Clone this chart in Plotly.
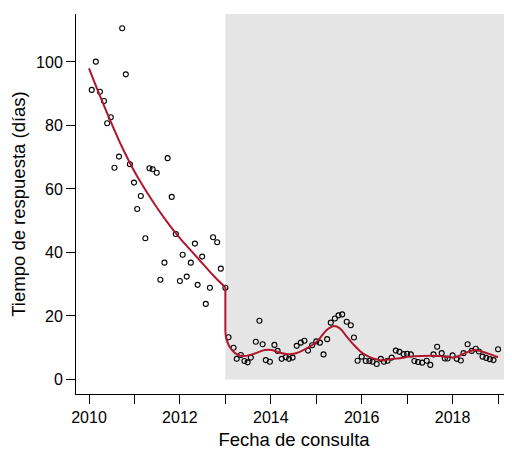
import plotly.graph_objects as go

# Observed points (decimal year, days)
pts_x = [2010.06, 2010.15, 2010.24, 2010.33, 2010.40, 2010.48, 2010.56, 2010.66, 2010.73, 2010.81,
         2010.90, 2010.99, 2011.06, 2011.14, 2011.24, 2011.33, 2011.40, 2011.49, 2011.57, 2011.66,
         2011.73, 2011.82, 2011.91, 2012.00, 2012.06, 2012.15, 2012.24, 2012.33, 2012.39, 2012.49,
         2012.57, 2012.66, 2012.73, 2012.82, 2012.90, 2013.00,
         2013.07, 2013.18, 2013.25, 2013.34, 2013.42, 2013.49, 2013.56, 2013.67, 2013.75, 2013.82,
         2013.89, 2013.98, 2014.08, 2014.15, 2014.24, 2014.33, 2014.40, 2014.48, 2014.57, 2014.66,
         2014.74, 2014.82, 2014.91, 2015.00, 2015.08, 2015.16, 2015.24, 2015.32, 2015.41, 2015.49,
         2015.57, 2015.67, 2015.76, 2015.83, 2015.91, 2016.00, 2016.09, 2016.17, 2016.24, 2016.33,
         2016.42, 2016.49, 2016.57, 2016.66, 2016.75, 2016.83, 2016.92, 2017.00, 2017.08, 2017.16,
         2017.24, 2017.33, 2017.43, 2017.51, 2017.58, 2017.66, 2017.76, 2017.83, 2017.89, 2018.00,
         2018.09, 2018.18, 2018.24, 2018.33, 2018.42, 2018.51, 2018.58, 2018.66, 2018.74, 2018.82,
         2018.90, 2019.00]
pts_y = [91.2, 100.1, 90.6, 87.7, 80.7, 82.6, 66.7, 70.2, 110.6, 96.1,
         67.8, 62.0, 53.7, 57.8, 44.5, 66.5, 66.2, 65.1, 31.4, 36.8,
         69.7, 57.5, 45.8, 31.0, 39.3, 32.4, 36.8, 42.8, 29.8, 38.7,
         23.8, 28.9, 44.8, 43.2, 34.9, 28.9,
         13.3, 10.0, 6.5, 7.7, 5.8, 5.4, 6.9, 11.9, 18.5, 11.1,
         6.1, 5.6, 10.9, 9.0, 6.5, 7.0, 6.5, 6.9, 10.6, 11.6,
         12.2, 9.1, 10.8, 12.0, 11.6, 7.9, 12.7, 17.9, 19.2, 20.2,
         20.5, 18.2, 17.1, 13.2, 5.9, 7.2, 5.8, 5.8, 5.6, 4.9,
         6.5, 5.6, 5.9, 6.9, 9.1, 8.7, 8.0, 8.1, 7.9, 5.8,
         5.5, 5.3, 5.9, 4.6, 7.9, 10.3, 8.3, 6.6, 6.6, 7.6,
         6.5, 6.0, 8.3, 11.1, 9.0, 9.7, 8.8, 7.2, 6.8, 6.4,
         6.1, 9.5]

# Fitted curve before the change
fit_pre_x = [2010.0, 2010.25, 2010.5, 2010.75, 2011.0, 2011.25, 2011.5, 2011.75, 2012.0,
             2012.25, 2012.5, 2012.75, 2013.0]
fit_pre_y = [98, 89, 80.5, 72.5, 65.5, 59.5, 54, 49, 44.5, 40.5, 36.5, 32.5, 29]

# Fitted curve after the change
fit_post_x = [2013.0, 2013.03, 2013.14, 2013.28, 2013.43, 2013.65, 2013.87, 2014.02, 2014.20,
              2014.35, 2014.53, 2014.75, 2014.97, 2015.08, 2015.23, 2015.38, 2015.52, 2015.67,
              2015.82, 2015.96, 2016.11, 2016.40, 2016.62, 2016.84, 2017.06, 2017.32, 2017.69,
              2018.05, 2018.27, 2018.49, 2018.64, 2018.82, 2019.0]
fit_post_y = [15, 12.4, 9.3, 7.7, 7.4, 8.2, 9.3, 9.3, 8.4,
              8.0, 8.2, 9.5, 11.4, 13.0, 15.6, 16.8, 16.1, 13.5,
              11.0, 9.0, 7.5, 6.1, 6.4, 6.7, 7.2, 7.4, 7.4,
              7.0, 8.3, 9.3, 8.8, 8.0, 7.0]

change_x = 2013.0
x_tickvals = [2010, 2011, 2012, 2013, 2014, 2015, 2016, 2017, 2018, 2019]
x_ticktext = ["2010", "", "2012", "", "2014", "", "2016", "", "2018", ""]
y_tickvals = [0, 20, 40, 60, 80, 100]

X_RANGE = [2009.714, 2019.307]
Y_RANGE = [-4.57, 115.1]
RED = "#B0162D"
FONT = "Liberation Sans, Arial, sans-serif"

fig = go.Figure()

fig.add_shape(type="rect", xref="x", yref="y", x0=change_x, x1=X_RANGE[1], y0=0, y1=Y_RANGE[1],
              fillcolor="#E5E5E5", line=dict(width=0), layer="below")

fig.add_trace(go.Scatter(x=pts_x, y=pts_y, mode="markers",
                         marker=dict(symbol="circle-open", size=5, color="black",
                                     line=dict(width=1.1, color="black")),
                         showlegend=False, hoverinfo="skip"))

fig.add_trace(go.Scatter(x=fit_pre_x, y=fit_pre_y, mode="lines",
                         line=dict(color=RED, width=2, shape="spline", smoothing=1),
                         showlegend=False, hoverinfo="skip"))
fig.add_trace(go.Scatter(x=[fit_pre_x[-1], fit_post_x[0]], y=[fit_pre_y[-1], fit_post_y[0]],
                         mode="lines", line=dict(color=RED, width=2),
                         showlegend=False, hoverinfo="skip"))
fig.add_trace(go.Scatter(x=fit_post_x, y=fit_post_y, mode="lines",
                         line=dict(color=RED, width=2, shape="spline", smoothing=1),
                         showlegend=False, hoverinfo="skip"))

# page body has an 8px default margin, so the figure is sized/offset to compensate
fig.update_layout(
    width=504, height=442,
    margin=dict(l=68, r=0, t=6, b=56),
    paper_bgcolor="white", plot_bgcolor="white",
    font=dict(family=FONT, size=16, color="black"),
    xaxis=dict(range=X_RANGE, tickvals=x_tickvals, ticktext=x_ticktext,
               showline=True, linecolor="black", linewidth=1,
               ticks="outside", ticklen=9, tickcolor="black", tickwidth=1,
               showgrid=False, zeroline=False, automargin=False,
               tickfont=dict(size=16),
               title=dict(text="Fecha de consulta", font=dict(size=18.5), standoff=10)),
    yaxis=dict(range=Y_RANGE, tickvals=y_tickvals,
               showline=True, linecolor="black", linewidth=1,
               ticks="outside", ticklen=9, tickcolor="black", tickwidth=1,
               showgrid=False, zeroline=False, automargin=False,
               tickfont=dict(size=16),
               title=dict(text="Tiempo de respuesta (días)", font=dict(size=18.5), standoff=8)),
)

fig.write_html("out.html")
